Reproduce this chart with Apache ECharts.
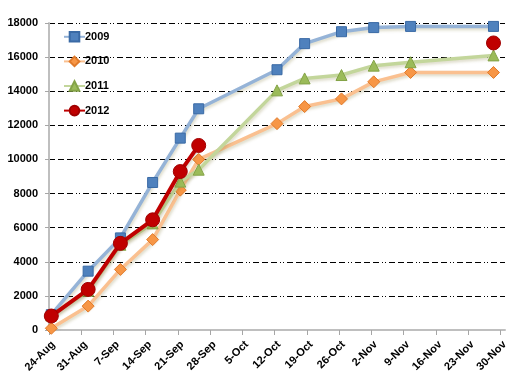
<!DOCTYPE html>
<html><head><meta charset="utf-8">
<script src="https://cdn.jsdelivr.net/npm/echarts@6/dist/echarts.min.js"></script>
<style>html,body{margin:0;padding:0;background:#fff}#c{width:532px;height:386px}</style>
</head><body><div id="c"></div>
<script>
// x values: days after 24-Aug
const days = [0.5, 8.5, 15.5, 22.5, 28.5, 32.5, 49.5, 55.5, 63.5, 70.5, 78.5, 96.5];
const tickLabels = ['24-Aug','31-Aug','7-Sep','14-Sep','21-Sep','28-Sep','5-Oct','12-Oct','19-Oct','26-Oct','2-Nov','9-Nov','16-Nov','23-Nov','30-Nov'];
const s2009 = [900, 3450, 5400, 8650, 11250, 12970, 15260, 16790, 17490, 17730, 17800, 17800];
const s2010 = [100, 1400, 3550, 5300, 8200, 10000, 12100, 13100, 13550, 14550, 15100, 15100];
const s2011 = [850, 2300, 5000, 6250, 8700, 9400, 14050, 14750, 14950, 15500, 15700, 16100];
const s2012 = [820, 2380, 5080, 6460, 9290, 10820, null, null, null, null, null, 16830];
const seriesNames = ['2009','2010','2011','2012'];

const tickVals = tickLabels.map((_, i) => i * 7);
const pair = arr => days.map((d, i) => [d, arr[i]]);
const shadow = {shadowColor:'rgba(120,110,40,0.25)', shadowBlur:3, shadowOffsetX:1, shadowOffsetY:2};

const chart = echarts.init(document.getElementById('c'), null, {renderer:'canvas'});
chart.setOption({
  animation:false,
  grid:{left:49, right:27, top:23, bottom:56, containLabel:false},
  legend:{
    orient:'vertical', left:58, top:26, itemGap:13, itemWidth:21, itemHeight:12,
    data:seriesNames,
    textStyle:{fontFamily:'Liberation Sans, Arial', fontWeight:'bold', fontSize:11, color:'#000', padding:[0,0,0,-5]}
  },
  xAxis:{
    type:'value', min:0, max:99, interval:7,
    axisLine:{lineStyle:{color:'#BFBFBF', width:2}},
    axisTick:{customValues:tickVals, length:5, lineStyle:{color:'#A6A6A6'}},
    splitLine:{show:false},
    axisLabel:{customValues:tickVals, rotate:45, margin:17, padding:[0,-6,0,0], color:'#000', fontFamily:'Liberation Sans, Arial', fontWeight:'bold', fontSize:11,
      formatter: v => tickLabels[Math.round(v/7)]}
  },
  yAxis:{
    type:'value', min:0, max:18000, interval:2000,
    axisLine:{show:true, lineStyle:{color:'#BFBFBF', width:2}},
    axisTick:{show:true, length:4, lineStyle:{color:'#A6A6A6'}},
    splitLine:{lineStyle:{color:'#000', width:1, type:[6,3,6,3,6,3,1,2,1,3]}},
    axisLabel:{margin:11, color:'#000', fontFamily:'Liberation Sans, Arial', fontWeight:'bold', fontSize:11,
      formatter: v => String(v)}
  },
  series:[
    {name:'2009', type:'line', data:pair(s2009), symbol:'rect', symbolSize:10, z:2,
      lineStyle:Object.assign({color:'#95B3D7', width:3.5}, shadow),
      itemStyle:{color:'#4F81BD', borderColor:'#3A6AA5', borderWidth:1}},
    {name:'2010', type:'line', data:pair(s2010), symbol:'diamond', symbolSize:12, z:3,
      lineStyle:Object.assign({color:'#FAC090', width:3.5}, shadow),
      itemStyle:{color:'#F79646', borderColor:'#E07A2A', borderWidth:1}},
    {name:'2011', type:'line', data:pair(s2011), symbol:'triangle', symbolSize:11, z:4,
      lineStyle:Object.assign({color:'#C3D69B', width:3.5}, shadow),
      itemStyle:{color:'#9BBB59', borderColor:'#84A347', borderWidth:1}},
    {name:'2012', type:'line', data:pair(s2012), symbol:'circle', symbolSize:14, z:5, connectNulls:false,
      lineStyle:Object.assign({color:'#C00000', width:4}, shadow),
      itemStyle:{color:'#C00000', borderColor:'#A00000', borderWidth:1}}
  ]
});
</script></body></html>
